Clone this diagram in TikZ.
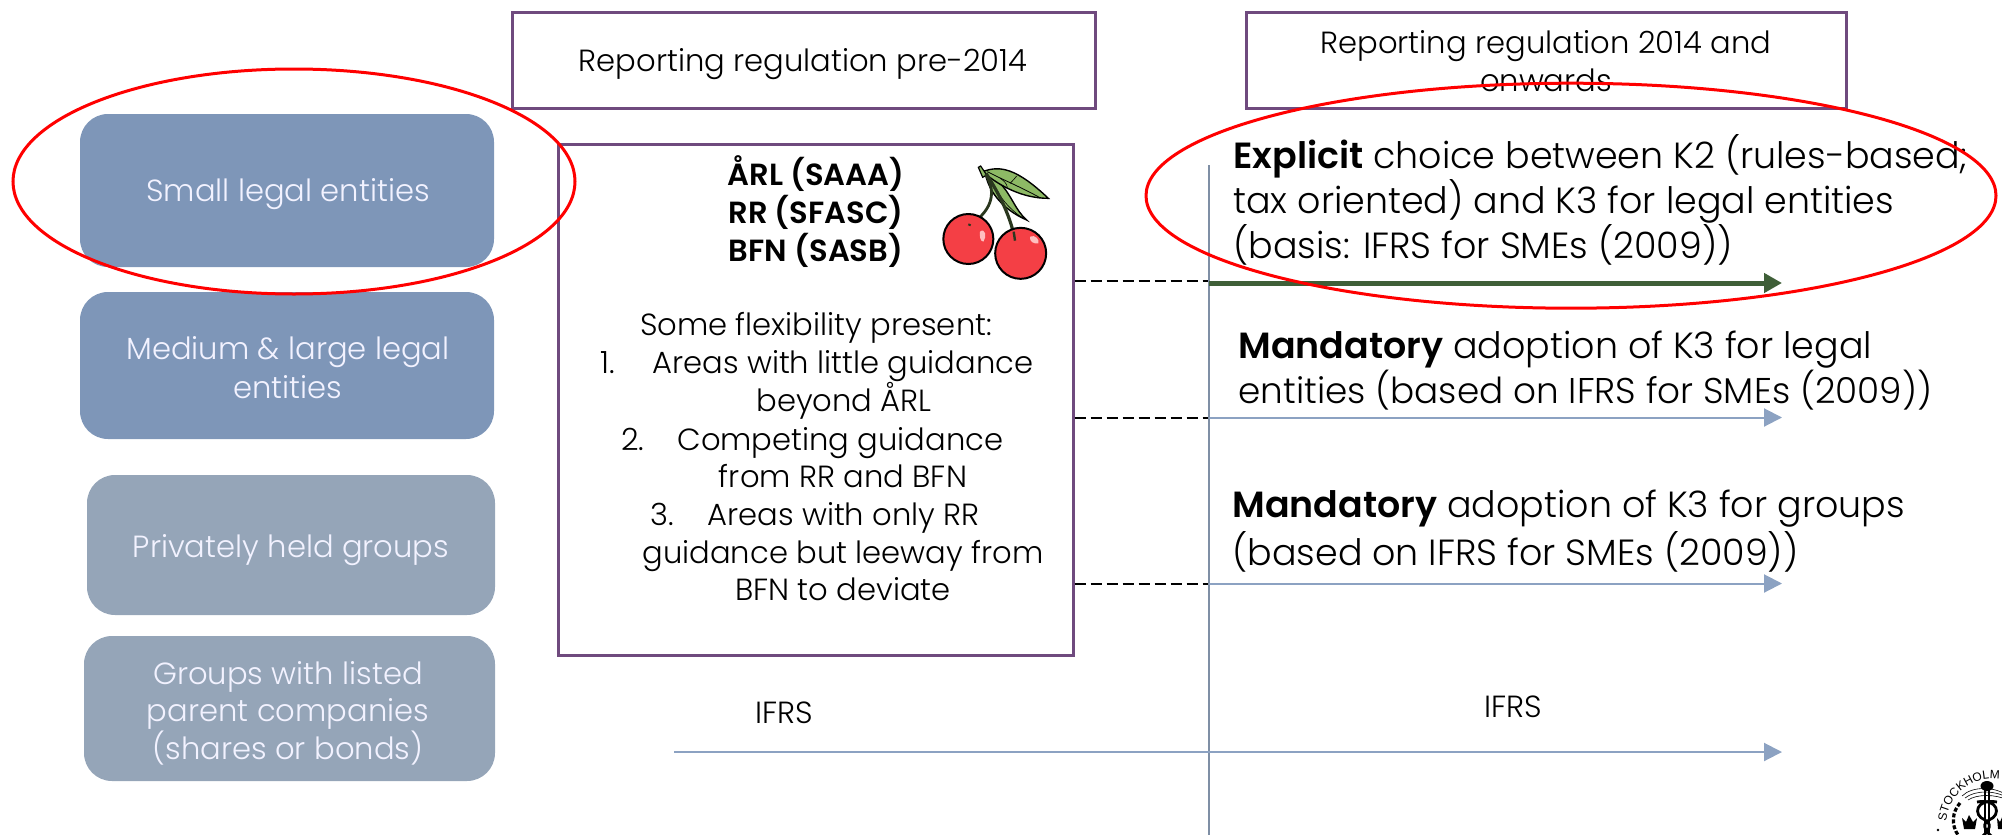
\documentclass[tikz,border=0pt]{standalone}
\usepackage{fontspec}
\setmainfont{Poppins Light}[BoldFont=Poppins SemiBold]
\newfontfamily\sealfont{Liberation Sans}
\usetikzlibrary{arrows.meta,shapes.geometric,decorations.text}
\definecolor{frameP}{HTML}{6F4A7E}
\definecolor{blueA}{HTML}{7E96B8}
\definecolor{greyB}{HTML}{95A5B8}
\definecolor{arrowB}{HTML}{8CA2C2}
\definecolor{vline}{HTML}{7F8FA5}
\definecolor{greenA}{HTML}{3F5F38}
\definecolor{leafG}{HTML}{8DB965}
\definecolor{cherryR}{HTML}{F43F45}
\tikzset{
  x=.5pt,y=-.5pt,
  frame/.style={draw=frameP,line width=1.5pt,fill=white,inner sep=0pt},
  pill/.style={rounded corners=14pt,inner sep=0pt,text=white,align=center},
  lab/.style={inner sep=0pt,font=\fontsize{15.3}{17}\selectfont,anchor=center,text height=.72em,text depth=.22em,yshift=-3pt},
  boldlab/.style={lab,font=\fontsize{15.3}{17}\bfseries\selectfont},
  side/.style={lab,text=white!95!blue},
  big/.style={inner sep=0pt,anchor=west,font=\fontsize{18.2}{20}\selectfont,text height=.72em,text depth=.22em,yshift=-3.4pt},
  ringmark/.style={draw=red,line width=1.5pt,ellipse,inner sep=0pt,fill=none},
  dashconn/.style={draw=black,line width=1pt,dash pattern=on 5.5pt off 2.5pt},
  flow/.style={draw=arrowB,line width=1pt,-{Triangle[length=9pt,width=9pt]}},
  greenflow/.style={draw=greenA,line width=2.5pt,-{Triangle[length=9pt,width=9.5pt]}},
}
\begin{document}
\begin{tikzpicture}
\useasboundingbox (0,0) rectangle (2002,835);
% left pills
\node[pill,fill=blueA,minimum width=207pt,minimum height=76.5pt] (p1) at (287,190.5) {};
\node[pill,fill=blueA,minimum width=207pt,minimum height=73.5pt] (p2) at (287,365.5) {};
\node[pill,fill=greyB,minimum width=204pt,minimum height=70pt] (p3) at (291,545) {};
\node[pill,fill=greyB,minimum width=205.5pt,minimum height=72.5pt] (p4) at (289.5,708.5) {};
\node[side] (p1t) at (288,190) {Small legal entities};
\node[side] (p2a) at (288,348) {Medium \& large legal};
\node[side] (p2b) at (288,387) {entities};
\node[side] (p3t) at (291,546) {Privately held groups};
\node[side] (p4a) at (288,673) {Groups with listed};
\node[side] (p4b) at (288,710) {parent companies};
\node[side] (p4c) at (288,748) {(shares or bonds)};
% header frames
\node[frame,minimum width=291.5pt,minimum height=48pt] (h1) at (803.5,60) {};
\node[frame,minimum width=300pt,minimum height=48pt] (h2) at (1546,60) {};
\node[lab] (h1t) at (803,60) {Reporting regulation pre-2014};
\node[lab] (h2a) at (1546,42) {Reporting regulation 2014 and};
\node[lab] (h2b) at (1546,80) {onwards};
% pre-2014 frame
\node[frame,minimum width=257.5pt,minimum height=255.5pt] (pre) at (815.5,399.5) {};
\node[boldlab] (s1) at (816,174) {ÅRL (SAAA)};
\node[boldlab] (s2) at (816,212) {RR (SFASC)};
\node[boldlab] (s3) at (816,250) {BFN (SASB)};
\node[lab] (l0) at (816,324) {Some flexibility present:};
\node[lab] (n1) at (608,362) {1.};
\node[lab,anchor=west] (l1) at (652,362) {Areas with little guidance};
\node[lab] (l1b) at (844,400) {beyond ÅRL};
\node[lab] (n2) at (633,439) {2.};
\node[lab,anchor=west] (l2) at (677,439) {Competing guidance};
\node[lab] (l2b) at (843,476) {from RR and BFN};
\node[lab] (n3) at (662,514) {3.};
\node[lab,anchor=west] (l3) at (707,514) {Areas with only RR};
\node[lab] (l3b) at (843,552) {guidance but leeway from};
\node[lab] (l3c) at (843,589) {BFN to deviate};
% cherries
\begin{scope}[shift={(900,130)},x=.16667pt,y=-.16667pt]
 \draw[black,line width=.7pt,fill=leafG] (255,125) .. controls (262,175) and (300,235) .. (380,270) .. controls (345,240) and (335,195) .. (300,160) -- cycle;
 \draw[black,line width=.7pt,fill=leafG] (248,125) .. controls (300,105) and (350,115) .. (445,205) .. controls (370,205) and (300,170) .. (248,125) -- cycle;
 \draw[black,line width=.4pt] (262,125) .. controls (310,150) and (360,170) .. (420,203);
 \draw[black,line width=.3pt] (300,145) .. controls (310,150) and (320,160) .. (322,172);
 \draw[black,line width=.3pt] (330,160) .. controls (340,150) and (345,145) .. (350,138);
 \draw[black,line width=.3pt] (285,170) .. controls (300,200) and (320,230) .. (365,262);
 \draw[draw=black,line width=.6pt,fill=leafG] (235,112) -- (242,108) -- (260,135) -- (248,142) -- cycle;
 \draw[line width=1.6pt,draw=black!70!leafG] (258,130) .. controls (290,180) and (330,250) .. (345,330);
 \draw[line width=1.4pt,draw=black!70!leafG] (258,135) .. controls (285,180) and (285,235) .. (210,285);
 \node[circle,draw=black,line width=1pt,fill=cherryR,minimum width=25pt,minimum height=25pt,inner sep=0pt] (c1) at (205,327) {};
 \node[circle,draw=black,line width=1pt,fill=cherryR,minimum width=25.5pt,minimum height=25pt,inner sep=0pt] (c2) at (362,370) {};
 \draw[line width=1pt,draw=black!70!leafG] (205,283) -- (212,286);
 \draw[line width=1.2pt,draw=black!70!leafG] (341,305) -- (345,332);
 \fill[red!25!white] (240,305) .. controls (255,292) and (262,320) .. (250,335) .. controls (240,335) and (238,315) .. (240,305) -- cycle;
 \fill[red!25!white] (390,320) .. controls (405,312) and (420,330) .. (415,340) .. controls (400,342) and (388,335) .. (390,320) -- cycle;
\end{scope}
% right text
\node[big] (e1) at (1233,157) {\textbf{Explicit} choice between K2 (rules-based;};
\node[big] (e2) at (1233,202) {tax oriented) and K3 for legal entities};
\node[big] (e3) at (1233,247) {(basis: IFRS for SMEs (2009))};
\node[big] (m1) at (1238,347) {\textbf{Mandatory} adoption of K3 for legal};
\node[big,font=\fontsize{17.9}{20}\selectfont] (m2) at (1238,392) {entities (based on IFRS for SMEs (2009))};
\node[big] (g1) at (1232,506) {\textbf{Mandatory} adoption of K3 for groups};
\node[big] (g2) at (1232,554) {(based on IFRS for SMEs (2009))};
\node[lab] (i1) at (784,712) {IFRS};
\node[lab] (i2) at (1513,706) {IFRS};
% timeline
\coordinate (vt) at (1209,165);
\coordinate (vb) at (1209,835);
\coordinate (a1) at (1209,283);
\coordinate (a1e) at (1782,283);
\coordinate (a2) at (1209,417.5);
\coordinate (a2e) at (1782,417.5);
\coordinate (a3) at (1209,583.5);
\coordinate (a3e) at (1782,583.5);
\coordinate (a4) at (674,752);
\coordinate (a4e) at (1782,752);
\draw[dashconn] (pre.east |- 0,281) -- (1209,281);
\draw[dashconn] (pre.east |- a2) -- (a2);
\draw[dashconn] (pre.east |- a3) -- (a3);
\draw[draw=vline,line width=1pt] (vt) -- (vb);
\draw[greenflow] (a1) -- (a1e);
\draw[flow] (a2) -- (a2e);
\draw[flow] (a3) -- (a3e);
\draw[flow] (a4) -- (a4e);
% red rings
\node[ringmark,minimum width=281pt,minimum height=112.5pt] (r1) at (294,181.5) {};
\node[ringmark,minimum width=425pt,minimum height=112.5pt] (r2) at (1571,195.7) {};
% seal
\path[decorate,decoration={text along path,text align=center,text={|\sealfont\fontsize{6}{7}\selectfont|STOCKHOLM}}]
   (1992,825) ++(180:46) arc[start angle=180,end angle=284,radius=46];
\begin{scope}
 \clip (1900,740) rectangle (2002,835);
 \fill (1987,786) ellipse[x radius=6.5,y radius=5];
 \draw[black,line width=.3pt] (1962,796) .. controls (1972,786) and (1995,786) .. (2008,796);
 \draw[black,line width=.3pt] (1965,798) .. controls (1975,790) and (1995,790) .. (2008,798);
 \draw[black,line width=.3pt] (1968,800) .. controls (1977,794) and (1995,794) .. (2008,800);
 \draw[black,line width=.9pt] (1985,790) -- (1985,835);
 \draw[black,line width=.9pt] (1989,790) -- (1989,835);
 \draw[black,line width=1.4pt] (1997,802) .. controls (1976,798) and (1972,815) .. (1985,820) .. controls (1995,825) and (1985,835) .. (1980,838);
 \draw[black,line width=1.4pt] (1977,802) .. controls (1998,798) and (2002,815) .. (1989,820) .. controls (1979,825) and (1989,835) .. (1994,838);
 \draw[black,line width=1.6pt,dash pattern=on 2pt off 1pt] (1960,803) .. controls (1952,812) and (1951,825) .. (1958,835);
 \fill (1964,829) -- (1962,818) -- (1966,822) -- (1969,815) -- (1973,822) -- (1977,818) -- (1975,829) -- cycle;
 \fill (1998,829) -- (1997,818) -- (2000,822) -- (2003,815) -- (2003,829) -- cycle;
 \fill (1938,830) circle[radius=1.3];
\end{scope}
\end{tikzpicture}
\end{document}
